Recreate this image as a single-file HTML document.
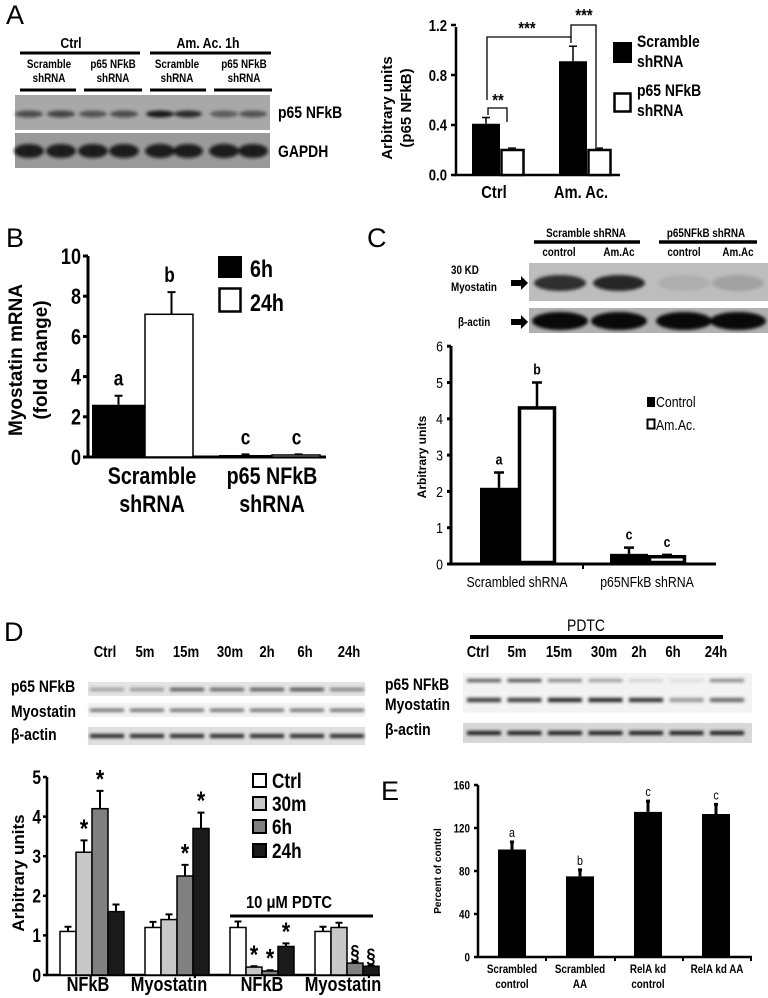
<!DOCTYPE html>
<html><head><meta charset="utf-8"><style>
html,body{margin:0;padding:0;background:#fff;}
svg{display:block;}
.n{font-family:"Liberation Sans Narrow","Liberation Sans",sans-serif;font-weight:bold;}
.r{font-family:"Liberation Sans Narrow","Liberation Sans",sans-serif;}
.w{font-family:"Liberation Sans",sans-serif;font-weight:bold;}
.L{font-family:"Liberation Sans",sans-serif;font-size:27px;}
</style></head><body>
<svg id="fig" width="768" height="998" viewBox="0 0 768 998" xmlns="http://www.w3.org/2000/svg">
<defs><filter id="bl" x="-20%" y="-50%" width="140%" height="200%"><feGaussianBlur stdDeviation="1.6"/></filter></defs>
<!-- Panel A -->
<text class="L" x="6" y="24">A</text>
<g>
<text class="n" font-size="15" text-anchor="middle" x="71" y="48">Ctrl</text><text class="n" font-size="15" text-anchor="middle" x="208" y="48">Am. Ac. 1h</text>
<text class="n" font-size="12" text-anchor="middle" x="49" y="68">Scramble</text><text class="n" font-size="12" text-anchor="middle" x="49" y="82">shRNA</text>
<text class="n" font-size="12" text-anchor="middle" x="113" y="68">p65 NFkB</text><text class="n" font-size="12" text-anchor="middle" x="113" y="82">shRNA</text>
<text class="n" font-size="12" text-anchor="middle" x="177" y="68">Scramble</text><text class="n" font-size="12" text-anchor="middle" x="177" y="82">shRNA</text>
<text class="n" font-size="12" text-anchor="middle" x="244" y="68">p65 NFkB</text><text class="n" font-size="12" text-anchor="middle" x="244" y="82">shRNA</text>
</g>
<g stroke="#000" stroke-width="3">
<line x1="20" y1="53" x2="140" y2="53"/><line x1="150" y1="53" x2="271" y2="53"/>
<line x1="20" y1="90" x2="76" y2="90"/><line x1="84" y1="90" x2="142" y2="90"/><line x1="150" y1="90" x2="206" y2="90"/><line x1="214" y1="90" x2="272" y2="90"/>
</g>
<rect x="15" y="95" width="255" height="35" fill="#a8a8a8"/>
<rect x="15" y="133" width="255" height="35" fill="#9a9a9a"/>
<g id="bandsA" filter="url(#bl)"></g>
<text class="n" font-size="17" x="278" y="118">p65 NFkB</text>
<text class="n" font-size="17" x="278" y="157">GAPDH</text>
<g id="chartA"></g>
<g class="w" font-size="15" text-anchor="middle">
<text transform="translate(392,108) rotate(-90)">Arbitrary units</text>
<text transform="translate(411,108) rotate(-90)">(p65 NFkB)</text></g>
<rect x="613" y="42" width="19" height="21" fill="#000"/>
<rect x="614.5" y="93.5" width="16" height="18" fill="#fff" stroke="#000" stroke-width="2.5"/>
<g>
<text class="n" font-size="17" x="637" y="47">Scramble</text><text class="n" font-size="17" x="637" y="67">shRNA</text>
<text class="n" font-size="17" x="637" y="96">p65 NFkB</text><text class="n" font-size="17" x="637" y="116">shRNA</text></g>
<g fill="none" stroke="#000" stroke-width="1.3">
<polyline points="487,100 487,37 571,37 571,43"/>
<polyline points="571,37 571,25 596,25 596,147"/>
<polyline points="488,115 488,108 507,108 507,122"/></g>
<g>
<text class="n" font-size="18" text-anchor="middle" x="527" y="34">***</text><text class="n" font-size="18" text-anchor="middle" x="584" y="21">***</text><text class="n" font-size="18" text-anchor="middle" x="498" y="106">**</text></g>

<!-- Panel B -->
<text class="L" x="6" y="247">B</text>
<g id="chartB"></g>
<g class="w" font-size="19" text-anchor="middle">
<text transform="translate(22,360) rotate(-90)">Myostatin mRNA</text>
<text transform="translate(47,360) rotate(-90)">(fold change)</text></g>
<rect x="218" y="256" width="24" height="22" fill="#000"/>
<rect x="219.5" y="288.5" width="21" height="23" fill="#fff" stroke="#000" stroke-width="2.5"/>
<g><text class="n" font-size="24" x="250" y="277">6h</text><text class="n" font-size="24" x="250" y="311">24h</text></g>
<g>
<text class="n" font-size="24" text-anchor="middle" x="152" y="484">Scramble</text><text class="n" font-size="24" text-anchor="middle" x="152" y="512">shRNA</text>
<text class="n" font-size="24" text-anchor="middle" x="272" y="484">p65 NFkB</text><text class="n" font-size="24" text-anchor="middle" x="272" y="512">shRNA</text></g>

<!-- Panel C -->
<text class="L" x="367" y="247">C</text>
<g>
<text class="n" font-size="12" text-anchor="middle" x="586" y="237">Scramble shRNA</text><text class="n" font-size="12" text-anchor="middle" x="706" y="237">p65NFkB shRNA</text>
<text class="n" font-size="12" text-anchor="middle" x="559" y="256">control</text><text class="n" font-size="12" text-anchor="middle" x="619" y="256">Am.Ac</text><text class="n" font-size="12" text-anchor="middle" x="684" y="256">control</text><text class="n" font-size="12" text-anchor="middle" x="738" y="256">Am.Ac</text></g>
<g stroke="#000" stroke-width="3.5"><line x1="534" y1="242" x2="640" y2="242"/><line x1="659" y1="242" x2="757" y2="242"/></g>
<rect x="529" y="263" width="239" height="38" fill="#bdbdbd"/>
<rect x="529" y="308" width="239" height="25" fill="#b0b0b0"/>
<g id="bandsC" filter="url(#bl)"></g>
<g>
<text class="n" font-size="12" x="451" y="274">30 KD</text><text class="n" font-size="12" x="451" y="291">Myostatin</text><text class="n" font-size="12" x="458" y="326">β-actin</text></g>
<g fill="#000">
<polygon points="511,280 521,280 521,276 528,283 521,290 521,286 511,286"/>
<polygon points="511,319 521,319 521,315 528,322 521,329 521,325 511,325"/></g>
<g id="chartC"></g>
<text class="w" font-size="12" text-anchor="middle" transform="translate(426,457) rotate(-90)">Arbitrary units</text>
<rect x="647" y="397" width="8" height="10" fill="#000"/>
<rect x="647.5" y="419.5" width="7" height="9" fill="#fff" stroke="#000" stroke-width="2"/>
<g><text class="r" font-size="15" x="656" y="407">Control</text><text class="r" font-size="15" x="656" y="430">Am.Ac.</text></g>
<g>
<text class="r" font-size="15" text-anchor="middle" x="517" y="587">Scrambled shRNA</text><text class="r" font-size="15" text-anchor="middle" x="647" y="587">p65NFkB shRNA</text></g>

<!-- Panel D -->
<text class="L" x="4" y="641">D</text>
<g>
<text class="n" font-size="16" text-anchor="middle" x="105" y="657">Ctrl</text><text class="n" font-size="16" text-anchor="middle" x="145" y="657">5m</text><text class="n" font-size="16" text-anchor="middle" x="186" y="657">15m</text><text class="n" font-size="16" text-anchor="middle" x="230" y="657">30m</text><text class="n" font-size="16" text-anchor="middle" x="267" y="657">2h</text><text class="n" font-size="16" text-anchor="middle" x="305" y="657">6h</text><text class="n" font-size="16" text-anchor="middle" x="349" y="657">24h</text></g>
<rect x="88" y="682" width="277" height="14" fill="#e4e4e4"/>
<rect x="88" y="703" width="277" height="14" fill="#f2f2f2"/>
<rect x="88" y="727" width="277" height="18" fill="#e0e0e0"/>
<g>
<text class="n" font-size="17" x="11" y="692">p65 NFkB</text><text class="n" font-size="17" x="11" y="717">Myostatin</text><text class="n" font-size="17" x="11" y="740">β-actin</text></g>
<text class="r" font-size="17" x="586" y="631" text-anchor="middle">PDTC</text>
<line x1="470" y1="637" x2="723" y2="637" stroke="#000" stroke-width="4"/>
<g>
<text class="n" font-size="16" text-anchor="middle" x="478" y="657">Ctrl</text><text class="n" font-size="16" text-anchor="middle" x="517" y="657">5m</text><text class="n" font-size="16" text-anchor="middle" x="559" y="657">15m</text><text class="n" font-size="16" text-anchor="middle" x="604" y="657">30m</text><text class="n" font-size="16" text-anchor="middle" x="639" y="657">2h</text><text class="n" font-size="16" text-anchor="middle" x="673" y="657">6h</text><text class="n" font-size="16" text-anchor="middle" x="716" y="657">24h</text></g>
<rect x="463" y="673" width="289" height="40" fill="#f3f3f3"/>
<rect x="463" y="723" width="289" height="20" fill="#d8d8d8"/>
<g id="bandsD" filter="url(#bl)"></g>
<g>
<text class="n" font-size="17" x="385" y="690">p65 NFkB</text><text class="n" font-size="17" x="385" y="710">Myostatin</text><text class="n" font-size="17" x="385" y="735">β-actin</text></g>
<g id="chartD"></g>
<text class="w" font-size="17" text-anchor="middle" transform="translate(24,873) rotate(-90)">Arbitrary units</text>
<text class="n" font-size="18" x="289" y="908" text-anchor="middle">10 μM PDTC</text>
<line x1="230" y1="916" x2="373" y2="916" stroke="#000" stroke-width="3"/>
<g stroke="#000" stroke-width="2">
<rect x="253" y="774" width="13" height="13" fill="#fff"/><rect x="253" y="797" width="13" height="13" fill="#c8c8c8"/>
<rect x="253" y="820" width="13" height="13" fill="#808080"/><rect x="253" y="844" width="13" height="13" fill="#1a1a1a"/></g>
<g>
<text class="n" font-size="21" x="272" y="788">Ctrl</text><text class="n" font-size="21" x="272" y="811">30m</text><text class="n" font-size="21" x="272" y="834">6h</text><text class="n" font-size="21" x="272" y="858">24h</text></g>
<g>
<text class="n" font-size="20" text-anchor="middle" x="88" y="991">NFkB</text><text class="n" font-size="20" text-anchor="middle" x="169" y="991">Myostatin</text><text class="n" font-size="20" text-anchor="middle" x="262" y="991">NFkB</text><text class="n" font-size="20" text-anchor="middle" x="343" y="991">Myostatin</text></g>

<!-- Panel E -->
<text class="L" x="381" y="800">E</text>
<g id="chartE"></g>
<text class="w" font-size="10" text-anchor="middle" transform="translate(441,871) rotate(-90)">Percent of control</text>
<g>
<text class="n" font-size="12" text-anchor="middle" x="512" y="973">Scrambled</text><text class="n" font-size="12" text-anchor="middle" x="512" y="988">control</text>
<text class="n" font-size="12" text-anchor="middle" x="580" y="973">Scrambled</text><text class="n" font-size="12" text-anchor="middle" x="580" y="988">AA</text>
<text class="n" font-size="12" text-anchor="middle" x="648" y="973">RelA kd</text><text class="n" font-size="12" text-anchor="middle" x="648" y="988">control</text>
<text class="n" font-size="12" text-anchor="middle" x="717" y="973">RelA kd AA</text></g>
</svg>
<script>
// ---- Chart data ----
const aCategories = ['Ctrl', 'Am. Ac.'];
const aScramble = [0.41, 0.91];
const aScrambleErr = [0.05, 0.12];
const aP65 = [0.2, 0.2];
const aP65Err = [0.015, 0.015];
const aTicks = [0, 0.4, 0.8, 1.2];
const aTickLabels = ['0.0', '0.4', '0.8', '1.2'];

const bCategories = ['Scramble shRNA', 'p65 NFkB shRNA'];
const b6h = [2.6, 0.1];
const b6hErr = [0.45, 0.03];
const b24h = [7.1, 0.1];
const b24hErr = [1.1, 0.03];
const bLetters6h = ['a', 'c'];
const bLetters24h = ['b', 'c'];
const bTicks = [0, 2, 4, 6, 8, 10];

const cCategories = ['Scrambled shRNA', 'p65NFkB shRNA'];
const cControl = [2.1, 0.28];
const cControlErr = [0.42, 0.17];
const cAmAc = [4.3, 0.2];
const cAmAcErr = [0.7, 0.05];
const cLettersControl = ['a', 'c'];
const cLettersAmAc = ['b', 'c'];
const cTicks = [0, 1, 2, 3, 4, 5, 6];

const dGroups = ['NFkB', 'Myostatin', 'NFkB PDTC', 'Myostatin PDTC'];
const dSeries = ['Ctrl', '30m', '6h', '24h'];
const dCtrl = [1.1, 1.2, 1.2, 1.1];
const d30m = [3.1, 1.4, 0.2, 1.2];
const d6h = [4.2, 2.5, 0.1, 0.3];
const d24h = [1.6, 3.7, 0.72, 0.22];
const dCtrlErr = [0.12, 0.14, 0.15, 0.12];
const d30mErr = [0.3, 0.13, 0.02, 0.12];
const d6hErr = [0.45, 0.28, 0.02, 0.03];
const d24hErr = [0.18, 0.4, 0.08, 0.02];
const dMarks30m = ['*', '', '*', ''];
const dMarks6h = ['*', '*', '*', '§'];
const dMarks24h = ['', '*', '*', '§'];
const dTicks = [0, 1, 2, 3, 4, 5];

const eCategories = ['Scrambled control', 'Scrambled AA', 'RelA kd control', 'RelA kd AA'];
const eValues = [100, 75, 135, 133];
const eErr = [7, 6, 10, 9];
const eLetters = ['a', 'b', 'c', 'c'];
const eTicks = [0, 40, 80, 120, 160];

// ---- helpers ----
const NS = 'http://www.w3.org/2000/svg';
function mk(tag, parent, attrs) {
  const e = document.createElementNS(NS, tag);
  for (const k in attrs) e.setAttribute(k, attrs[k]);
  parent.appendChild(e);
  return e;
}
function drawBar(g, name, x, w, y0, y1, fill, sw) {
  const r = mk('rect', g, {x: x, y: Math.min(y0, y1), width: w, height: Math.abs(y0 - y1), fill: fill, stroke: '#000', 'stroke-width': sw});
  
  
  return r;
}
function drawErr(g, name, cx, yTop, yEnd, cap, sw) {
  const p = mk('path', g, {d: 'M' + cx + ' ' + yEnd + 'V' + yTop + 'M' + (cx - cap) + ' ' + yTop + 'H' + (cx + cap), stroke: '#000', 'stroke-width': sw, fill: 'none'});
  
  
}
function drawText(g, name, x, y, s, cls, size, anchor) {
  const t = mk('text', g, {x: x, y: y, 'class': cls, 'font-size': size, 'text-anchor': anchor || 'middle'});
  t.textContent = s;
  
  
  return t;
}
function drawAxes(g, prefix, x0, x1, yb, ytop, ticks, labels, yf, lx, cls, fs, tickLen, sw) {
  const ax = mk('path', g, {d: 'M' + x0 + ' ' + ytop + 'V' + yb + 'H' + x1, stroke: '#000', 'stroke-width': sw, fill: 'none'});
  
  
  ticks.forEach((t, i) => {
    const y = yf(t);
    const tk = mk('line', g, {x1: x0 - tickLen, x2: x0, y1: y, y2: y, stroke: '#000', 'stroke-width': sw});
    
    
    drawText(g, prefix + '-y-tick-label', lx, y + fs * 0.36, labels[i], cls, fs, 'end');
  });
}

// ---- Chart A ----
(function () {
  const g = document.getElementById('chartA');
  const y = v => 175 - v * 125;
  drawAxes(g, 'a', 456, 620, 175, 27, aTicks, aTickLabels, y, 447, 'n', 16, 5, 2.5);
  aCategories.forEach((c, i) => {
    const x = 472 + i * 87;
    drawErr(g, 'a-error-scramble', x + 14, y(aScramble[i] + aScrambleErr[i]), y(aScramble[i]), 4, 1.5);
    drawBar(g, 'a-bar-scramble', x, 28, y(0), y(aScramble[i]), '#000', 0);
    drawErr(g, 'a-error-p65', x + 40, y(aP65[i] + aP65Err[i]), y(aP65[i]), 4, 1.5);
    drawBar(g, 'a-bar-p65', x + 29.5, 22, y(0), y(aP65[i]), '#fff', 2.5);
    drawText(g, 'a-x-label', x + 22, 198, c, 'n', 18);
  });
})();

// ---- Chart B ----
(function () {
  const g = document.getElementById('chartB');
  const y = v => 457 - v * 20.1;
  drawAxes(g, 'b', 88, 326, 457, 256, bTicks, bTicks.map(String), y, 81, 'n', 22, 5, 3);
  bCategories.forEach((c, i) => {
    const x = 92 + i * 127;
    const w = 53;
    drawErr(g, 'b-error-6h', x + w / 2, y(b6h[i] + b6hErr[i]), y(b6h[i]), 4, 2);
    drawBar(g, 'b-bar-6h', x, w, y(0), y(b6h[i]), '#000', 0);
    drawErr(g, 'b-error-24h', x + w * 1.5, y(b24h[i] + b24hErr[i]), y(b24h[i]), 4, 2);
    drawBar(g, 'b-bar-24h', x + w, w - 5, y(0), y(b24h[i]), '#fff', 1.5);
    drawText(g, 'b-letter', x + w / 2, y(b6h[i] + b6hErr[i]) - 10, bLetters6h[i], 'n', 21);
    drawText(g, 'b-letter', x + w * 1.5 - 2, y(b24h[i] + b24hErr[i]) - 10, bLetters24h[i], 'n', 21);
  });
})();

// ---- Chart C ----
(function () {
  const g = document.getElementById('chartC');
  const y = v => 564 - v * 36.3;
  drawAxes(g, 'c', 451, 716, 564, 346, cTicks, cTicks.map(String), y, 443, 'r', 15, 4, 3);
  mk('line', g, {x1: 583, x2: 583, y1: 564, y2: 569, stroke: '#000', 'stroke-width': 2});
  cCategories.forEach((c, i) => {
    const x = 480 + i * 130;
    drawErr(g, 'c-error-control', x + 19, y(cControl[i] + cControlErr[i]), y(cControl[i]), 5, 2.5);
    drawBar(g, 'c-bar-control', x, 38, y(0), y(cControl[i]), '#000', 0);
    drawErr(g, 'c-error-amac', x + 57, y(cAmAc[i] + cAmAcErr[i]), y(cAmAc[i]), 5, 2.5);
    drawBar(g, 'c-bar-amac', x + 39.5, 35, y(0) - 1.5, y(cAmAc[i]), '#fff', 3.5);
    drawText(g, 'c-letter', x + 19, y(cControl[i] + cControlErr[i]) - 8, cLettersControl[i], 'n', 15);
    drawText(g, 'c-letter', x + 57, y(cAmAc[i] + cAmAcErr[i]) - 8, cLettersAmAc[i], 'n', 15);
  });
})();

// ---- Chart D ----
(function () {
  const g = document.getElementById('chartD');
  const y = v => 975 - v * 39.6;
  drawAxes(g, 'd', 47, 380, 975, 777, dTicks, dTicks.map(String), y, 41, 'n', 19, 4, 2.5);
  const series = [dCtrl, d30m, d6h, d24h];
  const errs = [dCtrlErr, d30mErr, d6hErr, d24hErr];
  const marks = [null, dMarks30m, dMarks6h, dMarks24h];
  const fills = ['#fff', '#c8c8c8', '#808080', '#1a1a1a'];
  dGroups.forEach((grp, gi) => {
    const x0 = 60 + gi * 85;
    series.forEach((s, si) => {
      const x = x0 + si * 16;
      const v = s[gi];
      drawErr(g, 'd-error-' + dSeries[si], x + 8, y(v + errs[si][gi]), y(v), 3.5, 2);
      drawBar(g, 'd-bar-' + dSeries[si], x, 16, y(0), y(v), fills[si], 1.5);
      if (marks[si] && marks[si][gi]) {
        drawText(g, 'd-significance', x + 8, y(v + errs[si][gi]) - 3, marks[si][gi], 'n', marks[si][gi] === '*' ? 26 : 20);
      }
    });
  });
})();

// ---- Chart E ----
(function () {
  const g = document.getElementById('chartE');
  const y = v => 957 - v * 1.075;
  drawAxes(g, 'e', 478, 752, 957, 785, eTicks, eTicks.map(String), y, 470, 'n', 12, 4, 2.5);
  [546, 615, 683, 751].forEach(tx => mk('line', g, {x1: tx, x2: tx, y1: 957, y2: 961, stroke: '#000', 'stroke-width': 2}));
  eCategories.forEach((c, i) => {
    const cx = 512 + i * 68;
    drawErr(g, 'e-error', cx, y(eValues[i] + eErr[i]), y(eValues[i]), 2, 3);
    drawBar(g, 'e-bar', cx - 14, 28, y(0), y(eValues[i]), '#000', 0);
    drawText(g, 'e-letter', cx, y(eValues[i] + eErr[i]) - 5, eLetters[i], 'r', 13);
  });
})();

// ---- blot bands (decorative) ----
(function () {
  const gA = document.getElementById('bandsA');
  [29, 61, 93, 124, 160, 188, 224, 253].forEach((x, i) => {
    const dark = [0.55, 0.6, 0.5, 0.55, 0.85, 0.75, 0.45, 0.5][i];
    mk('ellipse', gA, {cx: x, cy: 114, rx: 14, ry: 3.5, fill: '#000', opacity: dark});
    mk('ellipse', gA, {cx: x, cy: 151, rx: 15, ry: 7, fill: '#111', opacity: 0.9});
  });
  const gC = document.getElementById('bandsC');
  [[560, 0.75], [619, 0.8], [684, 0.08], [738, 0.15]].forEach(b => {
    mk('ellipse', gC, {cx: b[0], cy: 283, rx: 26, ry: 8, fill: '#000', opacity: b[1]});
    mk('ellipse', gC, {cx: b[0], cy: 321, rx: 28, ry: 9, fill: '#000', opacity: 0.95});
  });
  const gD = document.getElementById('bandsD');
  for (let i = 0; i < 7; i++) {
    const xl = 107 + i * 40;
    mk('rect', gD, {x: xl - 17, y: 688, width: 34, height: 3, fill: '#000', opacity: [0.35, 0.4, 0.7, 0.65, 0.7, 0.75, 0.5][i]});
    mk('rect', gD, {x: xl - 17, y: 709, width: 34, height: 2.5, fill: '#000', opacity: 0.7});
    mk('rect', gD, {x: xl - 17, y: 734, width: 34, height: 4, fill: '#000', opacity: 0.85});
    const xr = 484 + i * 40.5;
    mk('rect', gD, {x: xr - 17, y: 679, width: 34, height: 3, fill: '#000', opacity: [0.7, 0.75, 0.5, 0.4, 0.15, 0.1, 0.5][i]});
    mk('rect', gD, {x: xr - 17, y: 698, width: 34, height: 4, fill: '#000', opacity: [0.8, 0.8, 0.9, 0.9, 0.85, 0.4, 0.6][i]});
    mk('rect', gD, {x: xr - 17, y: 731, width: 34, height: 4, fill: '#000', opacity: 0.9});
  }
})();

// ---- condense narrow-font text (Liberation Sans Narrow substitute) ----
(function () {
  const s = 0.82;
  document.querySelectorAll('text.n, text.r').forEach(t => {
    if (t.getAttribute('transform')) return;
    const x = parseFloat(t.getAttribute('x') || '0');
    t.setAttribute('transform', 'translate(' + (x * (1 - s)) + ',0) scale(' + s + ',1)');
  });
})();
</script>
</body></html>
